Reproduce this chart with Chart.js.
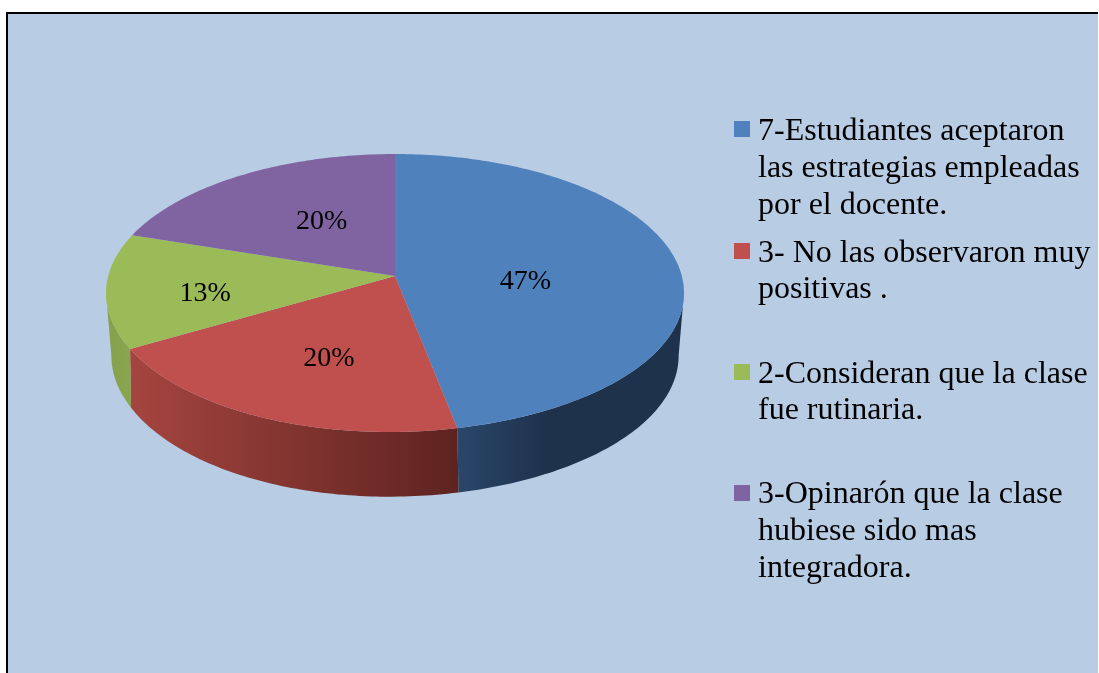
<!DOCTYPE html>
<html>
<head>
<meta charset="utf-8">
<style>
html, body { margin: 0; padding: 0; background: #fff; overflow: hidden; }
#frame { position: absolute; left: 6px; top: 12px; width: 1090px; height: 661px;
         border-left: 2px solid #000; border-top: 2px solid #000; background: #b8cce4; }
#pie { position: absolute; left: 0; top: 0; }
</style>
</head>
<body>
<div id="frame"></div>
<canvas id="pie" width="1099" height="673"></canvas>
<script src="https://cdn.jsdelivr.net/npm/chart.js@4"></script>
<script>
const categories = [
    ['7-Estudiantes aceptaron', 'las estrategias empleadas', 'por el docente.'],
    ['3- No las observaron muy', 'positivas .'],
    ['2-Consideran que la clase', 'fue rutinaria.'],
    ['3-Opinarón que la clase', 'hubiese sido mas', 'integradora.']
];
const values = [7, 3, 2, 3];
const colors = ['#4f81bd', '#c0504d', '#9bbb59', '#8064a2'];
// left and right colour of each slice's side wall
const wallColors = [
    ['#2a4669', '#1e324c'],
    ['#a5453f', '#5e2320'],
    ['#86a14c', '#8aa550'],
    ['#5d4876', '#5d4876']
];

// where the pie sits on the page, one ring for the top face and one for the bottom
const topRing = { cx: 395, cy: 276, a: 286.8, b: 136.9, k: 0.1223 };
const bottomRing = { cx: 395, cy: 333, a: 280, b: 137.5, k: 0.16 };
const labelRadius = [0.46, 0.53, 0.66, 0.5];
const labelShiftX = [0, 0, 0, 7];
const labelShiftY = [12, 12, 8, -2];
const legendSwatchY = [121, 243, 364, 485];
const legendBaselineY = [140, 262, 383, 503];
const legendLineHeight = [37, 36, 36, 37];

function project(ring, theta, r) {
    const u = Math.sin(theta) * r;
    const v = Math.cos(theta) * r;
    const w = 1 + ring.k * v;
    // the front of the reference pie leans slightly to the left
    const lean = v < 0 ? 6 * v * v * v * v : 0;
    return { x: ring.cx + ring.a * u / w - lean, y: ring.cy - ring.b * v / w };
}

// angle of the right silhouette point of a ring, the left one mirrors it
function edgeAngle(ring) {
    return Math.acos(-ring.k);
}

function ringPath(ctx, ring, from, to, move) {
    const steps = Math.max(2, Math.ceil(Math.abs(to - from) * 60));
    for (let i = 0; i <= steps; i++) {
        const p = project(ring, from + (to - from) * i / steps, 1);
        if (i === 0 && move) ctx.moveTo(p.x, p.y);
        else ctx.lineTo(p.x, p.y);
    }
}

const pie3d = {
    id: 'pie3d',
    beforeDatasetDraw(chart, args) {
        const ctx = chart.ctx;
        const arcs = args.meta.data;
        const slices = arcs.map(function (arc, i) {
            return { from: arc.startAngle + Math.PI / 2, to: arc.endAngle + Math.PI / 2, i: i, color: arc.options.backgroundColor };
        });

        // side walls first, the front half only
        const topEdge = edgeAngle(topRing), bottomEdge = edgeAngle(bottomRing);
        slices.forEach(function (s) {
            const topFrom = Math.max(s.from, topEdge), topTo = Math.min(s.to, Math.PI * 2 - topEdge);
            const botFrom = Math.max(s.from, bottomEdge), botTo = Math.min(s.to, Math.PI * 2 - bottomEdge);
            if (topTo <= topFrom) return;
            const a = project(topRing, topTo, 1).x, b = project(topRing, topFrom, 1).x;
            const left = Math.min(a, b), right = Math.max(a, b);
            const grad = ctx.createLinearGradient(left, 0, s.i === 0 ? left + 90 : right, 0);
            grad.addColorStop(0, wallColors[s.i][0]);
            grad.addColorStop(1, wallColors[s.i][1]);
            ctx.beginPath();
            ringPath(ctx, topRing, topFrom, topTo, true);
            ringPath(ctx, bottomRing, botTo, botFrom, false);
            ctx.closePath();
            ctx.fillStyle = grad;
            ctx.fill();
        });

        // top face
        slices.forEach(function (s) {
            ctx.beginPath();
            ctx.moveTo(topRing.cx, topRing.cy);
            ringPath(ctx, topRing, s.from, s.to, false);
            ctx.closePath();
            ctx.fillStyle = s.color;
            ctx.fill();
        });

        // percent labels
        const total = values.reduce(function (a, b) { return a + b; }, 0);
        ctx.fillStyle = '#000';
        ctx.font = '28px "Liberation Serif"';
        ctx.textAlign = 'center';
        ctx.textBaseline = 'middle';
        slices.forEach(function (s) {
            const p = project(topRing, (s.from + s.to) / 2, labelRadius[s.i]);
            ctx.fillText(Math.round(values[s.i] / total * 100) + '%', p.x + labelShiftX[s.i], p.y + labelShiftY[s.i]);
        });
        return false;
    },
    afterDraw(chart) {
        const ctx = chart.ctx;
        ctx.save();
        ctx.textAlign = 'left';
        ctx.textBaseline = 'alphabetic';
        ctx.font = '32px "Liberation Serif"';
        categories.forEach(function (lines, i) {
            ctx.fillStyle = colors[i];
            ctx.fillRect(734, legendSwatchY[i], 16, 16);
            ctx.fillStyle = '#000';
            lines.forEach(function (line, j) {
                ctx.fillText(line, 758, legendBaselineY[i] + j * legendLineHeight[i]);
            });
        });
        ctx.restore();
    }
};

new Chart(document.getElementById('pie').getContext('2d'), {
    type: 'pie',
    data: {
        labels: categories.map(function (c) { return c.join(' '); }),
        datasets: [{ data: values, backgroundColor: colors, borderWidth: 0 }]
    },
    options: {
        responsive: false,
        animation: false,
        plugins: { legend: { display: false }, tooltip: { enabled: false } }
    },
    plugins: [pie3d]
});
</script>
</body>
</html>
